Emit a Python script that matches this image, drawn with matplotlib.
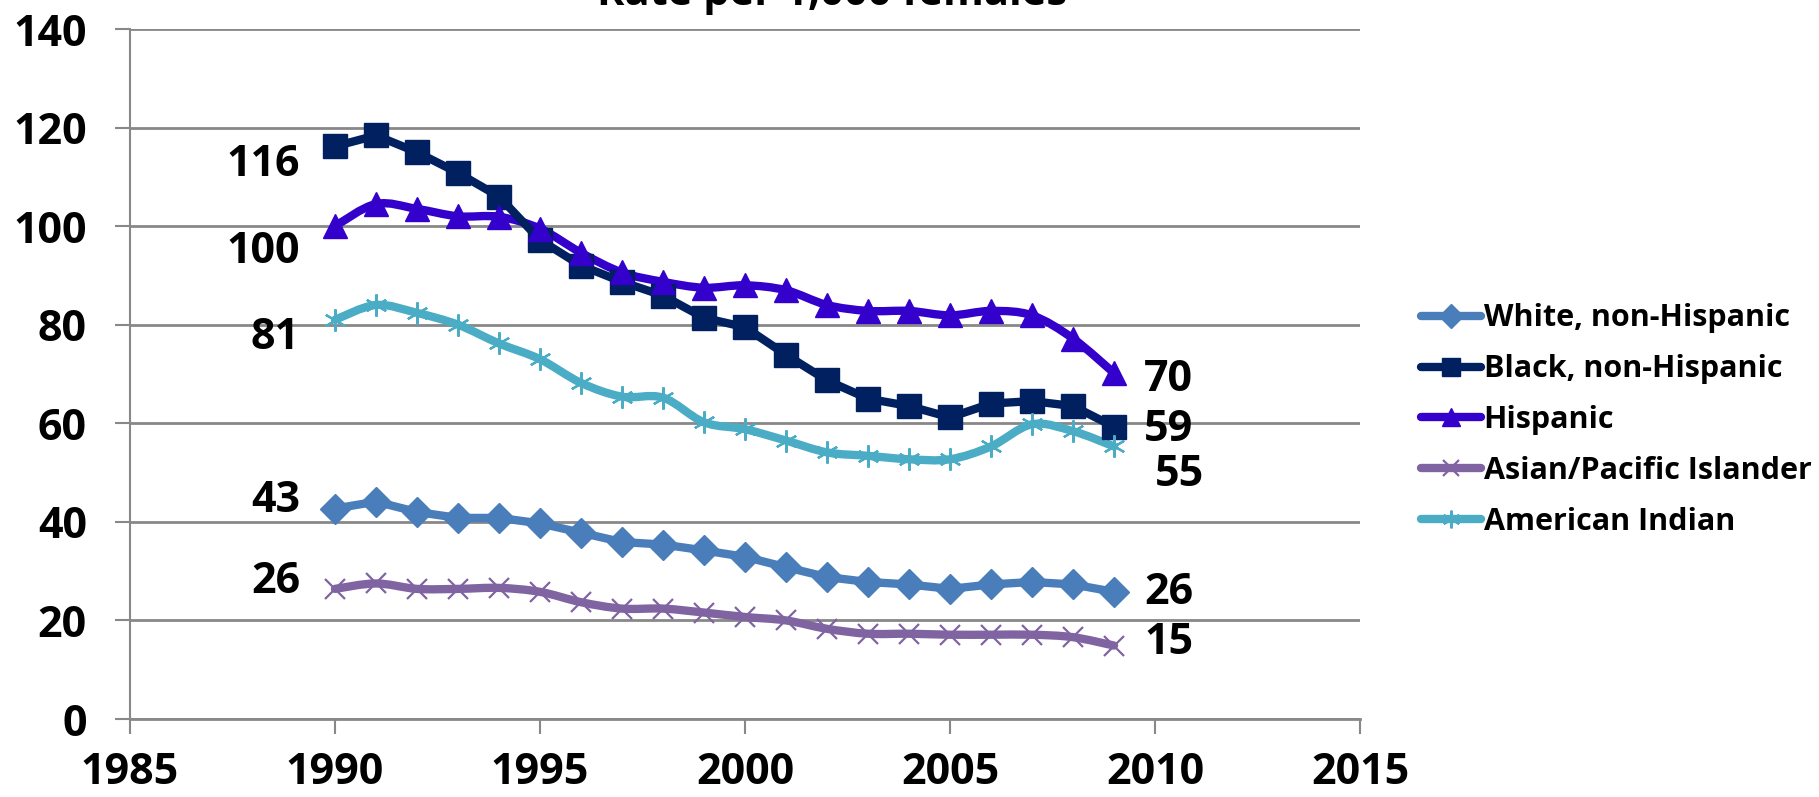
import matplotlib
matplotlib.use("Agg")
import matplotlib.pyplot as plt
from matplotlib.path import Path
from matplotlib.patches import PathPatch
from matplotlib.lines import Line2D
import numpy as np

plt.rcParams["font.family"] = ["Open Sans", "DejaVu Sans"]
plt.rcParams["font.weight"] = "bold"

# data (rate per 1,000 females)
years = list(range(1990, 2010))
white = [42.7, 44.1, 42.0, 40.8, 40.8, 39.7, 37.8, 35.9, 35.4, 34.2,
         32.9, 30.8, 28.8, 27.8, 27.3, 26.4, 27.3, 27.8, 27.3, 25.8]
black = [116.2, 118.4, 115.0, 110.8, 106.0, 97.2, 92.0, 88.7, 85.9, 81.4,
         79.5, 73.9, 68.7, 65.0, 63.5, 61.2, 64.0, 64.5, 63.5, 59.3]
hispanic = [100.0, 104.5, 103.5, 102.0, 101.9, 99.5, 94.6, 90.6, 88.7, 87.5,
            88.0, 87.0, 84.0, 82.8, 82.8, 81.9, 82.8, 81.9, 77.2, 70.2]
asian = [26.4, 27.5, 26.4, 26.4, 26.6, 25.8, 23.7, 22.4, 22.4, 21.6,
         20.7, 20.0, 18.3, 17.3, 17.3, 17.1, 17.1, 17.1, 16.6, 14.9]
amer_indian = [81.0, 84.0, 82.4, 80.0, 76.2, 73.0, 68.2, 65.4, 65.2, 60.2,
               58.8, 56.5, 54.1, 53.4, 52.7, 52.7, 55.3, 59.8, 58.4, 55.3]

labels = ["White, non-Hispanic", "Black, non-Hispanic", "Hispanic",
          "Asian/Pacific Islander", "American Indian"]
colors = ["#4A7EBB", "#002060", "#3300CC", "#8064A2", "#4BACC6"]
series = [white, black, hispanic, asian, amer_indian]
smooth = [False, False, True, True, True]
markers = ["D", "s", "^", "x", (6, 2, 0)]
msizes = [15, 17, 17, 14, 16]
medge = [1, 1, 1, 1.6, 1.6]

# offsets (pixels) for the first / last value labels
first_off = [(-35, 8), (-35, -18), (-35, -25), (-35, 7), (-35, -18)]
last_off = [(30, -1), (30, -3), (30, -6), (30, 3), (41, -28)]


def smooth_path(x, y):
    # excel-like smoothed line: cubic bezier through every point
    x = np.asarray(x, float)
    y = np.asarray(y, float)
    verts = [(x[0], y[0])]
    codes = [Path.MOVETO]
    n = len(x)
    for i in range(n - 1):
        p0 = (x[max(i - 1, 0)], y[max(i - 1, 0)])
        p1 = (x[i], y[i])
        p2 = (x[i + 1], y[i + 1])
        p3 = (x[min(i + 2, n - 1)], y[min(i + 2, n - 1)])
        c1 = (p1[0] + (p2[0] - p0[0]) / 6, p1[1] + (p2[1] - p0[1]) / 6)
        c2 = (p2[0] - (p3[0] - p1[0]) / 6, p2[1] - (p3[1] - p1[1]) / 6)
        verts += [c1, c2, p2]
        codes += [Path.CURVE4] * 3
    return Path(verts, codes)


fig = plt.figure(figsize=(18.19, 7.97), dpi=100)
ax = fig.add_axes([130 / 1819, 78 / 797, 1230 / 1819, 690 / 797])

ax.set_xlim(1985, 2015)
ax.set_ylim(0, 140)
ax.set_xticks(range(1985, 2016, 5))
ax.set_yticks(range(0, 141, 20))
ax.yaxis.grid(True, color="#888888", linewidth=2)
ax.set_axisbelow(True)
for s in ["top", "right"]:
    ax.spines[s].set_visible(False)
ax.spines["left"].set_color("#888888")
ax.spines["bottom"].set_color("#888888")
ax.spines["left"].set_linewidth(1.5)
ax.spines["bottom"].set_linewidth(2)
ax.tick_params(axis="both", colors="#888888", length=11, width=1.5,
               labelcolor="black", labelsize=31)
ax.tick_params(axis="y", pad=20)
ax.tick_params(axis="x", pad=12)

handles = []
for vals, lab, c, sm, m, ms, me, fo, lo in zip(series, labels, colors, smooth,
                                              markers, msizes, medge,
                                              first_off, last_off):
    if sm:
        ax.add_patch(PathPatch(smooth_path(years, vals), facecolor="none",
                               edgecolor=c, linewidth=6, capstyle="round",
                               joinstyle="round", zorder=2))
        ax.plot(years, vals, linestyle="none", marker=m, markersize=ms,
                color=c, markeredgewidth=me, zorder=3)
    else:
        ax.plot(years, vals, color=c, linewidth=6, marker=m, markersize=ms,
                markeredgewidth=me, solid_joinstyle="miter", zorder=3)
    handles.append(Line2D([], [], color=c, linewidth=6, marker=m,
                          markersize=ms * 0.8, markeredgewidth=me,
                          solid_capstyle="round"))
    ax.annotate(f"{vals[0]:.0f}", (years[0], vals[0]), xytext=fo,
                textcoords="offset pixels", ha="right", va="center",
                fontsize=31, fontweight="bold")
    ax.annotate(f"{vals[-1]:.0f}", (years[-1], vals[-1]), xytext=lo,
                textcoords="offset pixels", ha="left", va="center",
                fontsize=31, fontweight="bold")

for t in ax.get_xticklabels() + ax.get_yticklabels():
    t.set_fontweight("bold")

fig.legend(handles, labels, loc="center left",
           bbox_to_anchor=(1421 / 1819, 1 - 420 / 797), frameon=False,
           fontsize=22, handlelength=1.95, handletextpad=0.1,
           labelspacing=0.68, borderpad=0, borderaxespad=0)

# title is mostly cut off at the top edge in the original
fig.text(832 / 1819, 1.007, "Rate per 1,000 females", ha="center",
         va="center", fontsize=30, fontweight="bold")

fig.savefig("out.png", dpi=100)
